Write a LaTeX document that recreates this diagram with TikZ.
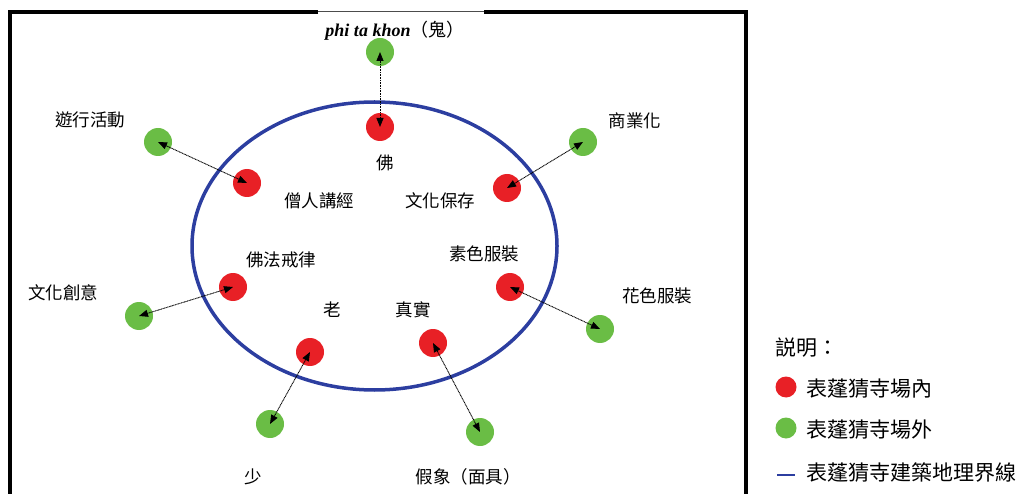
\documentclass[tikz,border=0pt]{standalone}
\usepackage{fontspec}
\setmainfont{Liberation Serif}
\newfontfamily\cjk{Noto Sans CJK TC}
\usetikzlibrary{arrows.meta}
\definecolor{dotred}{RGB}{232,32,38}
\definecolor{dotgreen}{RGB}{106,189,69}
\definecolor{edgeblue}{RGB}{44,62,160}
\tikzset{
  rdot/.style={circle, fill=dotred, minimum size=28pt, inner sep=0pt},
  gdot/.style={circle, fill=dotgreen, minimum size=28pt, inner sep=0pt},
  lab/.style={font=\cjk\fontsize{17.5}{20}\selectfont, inner sep=0pt},
  leg/.style={font=\cjk\fontsize{21}{24}\selectfont, inner sep=0pt, anchor=west},
  conn/.style={dash pattern=on 1pt off 0.6pt, line width=0.9pt,
    {Triangle[length=9pt,width=7pt]}-{Triangle[length=9pt,width=7pt]}},
}
\begin{document}
\begin{tikzpicture}[x=1pt,y=-1pt]
\useasboundingbox (0,0) rectangle (1022,494);
\clip (0,0) rectangle (1022,494);
% frame
\draw[line width=3.5pt] (318,12) -- (10,12) -- (10,500);
\draw[line width=3.5pt] (484,12) -- (746,12) -- (746,500);
\draw[line width=0.6pt, black!70] (318,11) -- (484,11);
% boundary ellipse
\draw[edgeblue, line width=3.5pt] (374.5,246) ellipse [x radius=182.5, y radius=144];
% dots
\node[gdot] (g1) at (380,52) {};
\node[rdot] (r1) at (380,127) {};
\node[gdot] (g2) at (158,142) {};
\node[rdot] (r2) at (247,183) {};
\node[gdot] (g3) at (583,142) {};
\node[rdot] (r3) at (507,188) {};
\node[rdot] (r4) at (233,287) {};
\node[gdot] (g4) at (139,316) {};
\node[rdot] (r5) at (510,287) {};
\node[gdot] (g5) at (600,329) {};
\node[rdot] (r6) at (310,352) {};
\node[gdot] (g6) at (270,424) {};
\node[rdot] (r7) at (433,343) {};
\node[gdot] (g7) at (480,432) {};
% connectors
\draw[conn] (g1.center) -- (r1.center);
\draw[conn] (g2.center) -- (r2.center);
\draw[conn] (g3.center) -- (r3.center);
\draw[conn] (g4.center) -- (r4.center);
\draw[conn] (g5.center) -- (r5.center);
\draw[conn] (g6.center) -- (r6.center);
\draw[conn] (g7.center) -- (r7.center);
% labels
\node[inner sep=0pt, font=\fontsize{18}{20}\selectfont] (title) at (395,31) {\textbf{\textit{phi ta khon}}{\cjk\fontsize{18}{20}\selectfont （鬼）}};
\node[lab] (l1) at (90,120) {遊行活動};
\node[lab] (l2) at (385,163) {佛};
\node[lab] (l3) at (319,201) {僧人講經};
\node[lab] (l4) at (440,201) {文化保存};
\node[lab] (l5) at (635,121) {商業化};
\node[lab] (l6) at (281,260) {佛法戒律};
\node[lab] (l7) at (484,254) {素色服裝};
\node[lab] (l8) at (63,293) {文化創意};
\node[lab] (l9) at (332,310) {老};
\node[lab] (l10) at (413,310) {真實};
\node[lab] (l11) at (657,296) {花色服裝};
\node[lab] (l12) at (253,477) {少};
\node[lab] (l13) at (468,477) {假象（面具）};
% legend
\node[leg] (lt) at (775,348) {説明：};
\node[circle, fill=dotred, minimum size=21pt, inner sep=0pt] (lr) at (786,387) {};
\node[leg] (lrt) at (806,389) {表蓬猜寺場內};
\node[circle, fill=dotgreen, minimum size=21pt, inner sep=0pt] (lg) at (786,428) {};
\node[leg] (lgt) at (806,430) {表蓬猜寺場外};
\coordinate (lb1) at (777,475);
\coordinate (lb2) at (795,475);
\draw[edgeblue, line width=1.4pt] (lb1) -- (lb2);
\node[leg] (lbt) at (806,473) {表蓬猜寺建築地理界線};
\end{tikzpicture}
\end{document}
